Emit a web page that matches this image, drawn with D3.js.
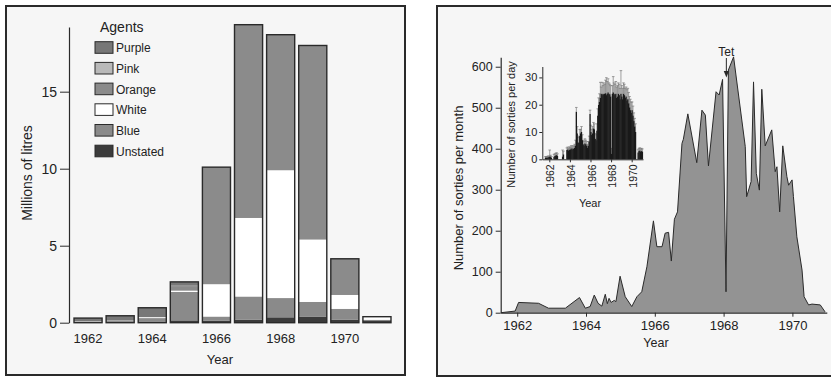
<!DOCTYPE html>
<html>
<head>
<meta charset="utf-8">
<script src="https://cdn.jsdelivr.net/npm/d3@7"></script>
<style>
  body { margin: 0; background: #fff; }
  svg { display: block; font-family: "Liberation Sans", Arial, Helvetica, sans-serif; }
</style>
</head>
<body>
<svg id="chart" width="831" height="378"></svg>
<script>
// ---- left panel: herbicide volumes (millions of litres) ----
const years = [1962, 1963, 1964, 1965, 1966, 1967, 1968, 1969, 1970, 1971];
const agentKeys = ["Purple", "Pink", "Orange", "White", "Blue", "Unstated"];
const purple   = [0.20, 0.30, 0.60, 0.25, 0, 0, 0, 0, 0, 0];
const pink     = [0.03, 0.02, 0.02, 0.02, 0, 0, 0, 0, 0, 0];
const orange   = [0, 0, 0, 0.30, 7.60, 12.55, 8.80, 12.60, 2.35, 0];
const white    = [0, 0, 0.05, 0.08, 2.10, 5.10, 8.30, 4.05, 0.90, 0.20];
const blue     = [0.04, 0.08, 0.22, 1.85, 0.28, 1.50, 1.25, 0.95, 0.70, 0.04];
const unstated = [0.03, 0.05, 0.08, 0.15, 0.12, 0.20, 0.35, 0.40, 0.20, 0.15];
const agentColors = ["#777777", "#b9b9b9", "#8b8b8b", "#ffffff", "#8a8a8a", "#3b3b3b"];
const leftYTicks = [0, 5, 10, 15];
const leftXTicks = [1962, 1964, 1966, 1968, 1970];

// ---- right panel: sorties per month ----
const sortieDates = [1961.53, 1961.94, 1962.04, 1962.62, 1962.91, 1963.40, 1963.81, 1963.98,
  1964.12, 1964.24, 1964.35, 1964.46, 1964.56, 1964.62, 1964.67, 1964.73, 1964.82, 1964.87,
  1964.99, 1965.14, 1965.33, 1965.48, 1965.62, 1965.77, 1965.96, 1966.06, 1966.21, 1966.30,
  1966.40, 1966.48, 1966.57, 1966.66, 1966.79, 1966.83, 1966.96, 1967.22, 1967.37, 1967.47,
  1967.56, 1967.78, 1967.87, 1967.97, 1968.07, 1968.14, 1968.29, 1968.63, 1968.67, 1968.80,
  1968.87, 1968.95, 1969.04, 1969.11, 1969.21, 1969.40, 1969.50, 1969.55, 1969.63, 1969.72,
  1969.84, 1969.89, 1969.99, 1970.03, 1970.13, 1970.28, 1970.34, 1970.47, 1970.57, 1970.81, 1970.95];
const sortieCounts = [0, 4, 25, 23, 11, 11, 37, 11,
  15, 43, 23, 16, 45, 22, 35, 25, 30, 27,
  89, 39, 15, 39, 51, 112, 224, 161, 161, 194,
  196, 126, 228, 246, 413, 423, 485, 366, 494, 482,
  358, 539, 531, 569, 51, 592, 624, 405, 283, 320,
  563, 340, 299, 545, 407, 446, 344, 356, 246, 407,
  332, 311, 324, 283, 185, 104, 39, 19, 21, 19, 2];
const mainYTicks = [0, 100, 200, 300, 400, 500, 600];
const mainXTicks = [1962, 1964, 1966, 1968, 1970];
const tetDate = 1968.08;

// ---- inset: sorties per day, monthly from Jul 1961 ----
const insetFirstMonth = 1961.5;
const insetRate = [
  0, 0.6, 0.6, 0.6, 0.7, 0.8,
  1.0, 0.8, 0.5, 0, 0, 0.9, 1.2, 1.4, 1.5, 1.2, 0, 0,
  0, 0, 0, 1.0, 1.8, 0, 0, 0, 3.4, 3.6, 3.2, 3.5,
  3.6, 4.0, 3.5, 4.0, 3.8, 4.2, 5.0, 17.4, 9.5, 6.2, 6.0, 8.5,
  9.5, 10.0, 7.0, 5.5, 5.0, 5.8, 5.5, 5.0, 4.2, 5.0, 6.5, 16.6,
  10.0, 8.9, 9.5, 11.3, 11.0, 7.5, 7.0, 10.5, 16.0, 19.9, 21.0, 22.5,
  24.0, 23.5, 24.0, 23.8, 24.0, 24.2, 23.5, 24.0, 24.5, 24.0, 23.8, 23.0,
  2.0, 24.0, 24.5, 24.0, 23.5, 24.0, 22.5, 23.0, 24.0, 23.5, 22.0, 24.0,
  23.0, 22.0, 24.0, 23.5, 22.5, 23.0, 21.5, 22.0, 20.5, 19.0, 18.0, 17.0,
  18.0, 16.0, 14.0, 12.0, 10.0, 0, 0, 2.5, 3.0, 3.2, 2.8, 3.0,
  2.8];
const insetHigh = [
  0, 1.0, 1.0, 1.0, 1.2, 1.2,
  3.4, 1.5, 1.0, 0, 0, 1.8, 2.0, 2.2, 2.4, 2.0, 0, 0,
  0, 0, 0, 3.4, 3.0, 0, 0, 0, 4.2, 4.5, 4.0, 4.5,
  4.5, 5.0, 4.5, 5.0, 4.8, 5.5, 7.0, 19.0, 12.0, 8.0, 8.5, 10.9,
  11.0, 12.0, 9.0, 7.0, 6.5, 7.5, 7.0, 6.5, 5.5, 6.5, 8.5, 18.0,
  12.5, 11.0, 12.0, 13.5, 13.0, 9.5, 9.0, 13.0, 18.5, 22.5, 24.0, 28.2,
  26.5, 28.2, 27.0, 28.0, 27.5, 29.0, 29.9, 28.5, 29.5, 28.0, 27.5, 27.0,
  4.0, 27.0, 30.3, 28.0, 27.5, 28.5, 26.5, 27.0, 28.0, 27.5, 26.0, 32.5,
  27.0, 26.0, 28.0, 27.5, 26.0, 26.5, 25.5, 26.0, 24.5, 23.0, 22.0, 21.0,
  21.0, 19.5, 17.0, 15.0, 13.0, 0, 0, 3.5, 4.0, 4.2, 3.8, 4.0,
  3.8];
const insetYTicks = [0, 10, 20, 30];
const insetXTicks = [1962, 1964, 1966, 1968, 1970];

const ink = "#2a2a2a";
const svg = d3.select("#chart");

// panel frames
svg.append("rect").attr("x", 6).attr("y", 6).attr("width", 399).attr("height", 369)
  .attr("fill", "#f6f6f6").attr("stroke", ink).attr("stroke-width", 2);
svg.append("rect").attr("x", 437).attr("y", 6).attr("width", 410).attr("height", 370)
  .attr("fill", "#f6f6f6").attr("stroke", ink).attr("stroke-width", 2);

function styleAxis(g, size) {
  g.attr("font-family", null).attr("font-size", size);
  g.selectAll("path, line").attr("stroke", ink);
  g.selectAll("text").attr("fill", "#222");
}

// ================= left panel =================
const xBar = d3.scaleBand().domain(years).range([72, 393]).paddingInner(0.125).paddingOuter(0.0625);
const yBar = d3.scaleLinear().domain([0, 19.2]).range([322.7, 27]);

const seriesByKey = { Purple: purple, Pink: pink, Orange: orange, White: white, Blue: blue, Unstated: unstated };
const rows = years.map((yr, i) => {
  const r = { year: yr };
  agentKeys.forEach(k => { r[k] = seriesByKey[k][i]; });
  return r;
});
const stackOrder = agentKeys.slice().reverse();
const stacked = d3.stack().keys(stackOrder)(rows);
const colorOf = d3.scaleOrdinal().domain(agentKeys).range(agentColors);

const barG = svg.append("g");
barG.selectAll("g.layer")
  .data(stacked)
  .join("g")
  .attr("class", "layer")
  .attr("fill", d => colorOf(d.key))
  .selectAll("rect")
  .data(d => d)
  .join("rect")
  .attr("x", d => xBar(d.data.year))
  .attr("width", xBar.bandwidth())
  .attr("y", d => yBar(d[1]))
  .attr("height", d => Math.max(0, yBar(d[0]) - yBar(d[1])));

const topLayer = stacked[stacked.length - 1];
barG.selectAll("rect.outline")
  .data(topLayer)
  .join("rect")
  .attr("class", "outline")
  .attr("x", d => xBar(d.data.year))
  .attr("width", xBar.bandwidth())
  .attr("y", d => yBar(d[1]))
  .attr("height", d => yBar(0) - yBar(d[1]))
  .attr("fill", "none")
  .attr("stroke", ink)
  .attr("stroke-width", 1.4);

svg.append("g")
  .attr("transform", "translate(69,0)")
  .call(d3.axisLeft(yBar).tickValues(leftYTicks).tickSize(9).tickPadding(3).tickSizeOuter(0))
  .call(g => styleAxis(g, 14))
  .call(g => g.select(".domain").attr("stroke-width", 1.2));

svg.append("g")
  .attr("transform", "translate(0,322.7)")
  .call(d3.axisBottom(xBar).tickValues(leftXTicks).tickSize(0).tickPadding(11))
  .call(g => g.select(".domain").remove())
  .call(g => styleAxis(g, 13));

svg.append("text").attr("x", 220).attr("y", 364).attr("text-anchor", "middle")
  .attr("font-size", 13).attr("fill", "#222").text("Year");
svg.append("text").attr("transform", "translate(27,173) rotate(-90)")
  .attr("text-anchor", "middle").attr("dy", "0.35em")
  .attr("font-size", 14).attr("fill", "#222").text("Millions of litres");

// legend
const legend = svg.append("g");
legend.append("text").attr("x", 100).attr("y", 32).attr("font-size", 14).attr("fill", "#222").text("Agents");
const legendRows = legend.selectAll("g.item").data(agentKeys).join("g")
  .attr("class", "item")
  .attr("transform", (d, i) => `translate(95,${47.5 + i * 20.7})`);
legendRows.append("rect").attr("x", 0).attr("y", -5.8).attr("width", 18).attr("height", 11.6)
  .attr("fill", d => colorOf(d)).attr("stroke", ink).attr("stroke-width", 1);
legendRows.append("text").attr("x", 21).attr("y", 4.8).attr("font-size", 12).attr("fill", "#222").text(d => d);

// ================= right panel =================
const xMain = d3.scaleLinear().domain([1961.52, 1971.0]).range([500.7, 826.8]);
const yMain = d3.scaleLinear().domain([0, 623]).range([312.7, 57.3]);
const sortiePts = sortieDates.map((t, i) => [t, sortieCounts[i]]);

svg.append("path")
  .datum(sortiePts)
  .attr("fill", "#939393")
  .attr("d", d3.area().x(d => xMain(d[0])).y0(yMain(0)).y1(d => yMain(d[1])));
svg.append("path")
  .datum(sortiePts)
  .attr("fill", "none")
  .attr("stroke", ink)
  .attr("stroke-width", 1)
  .attr("stroke-linejoin", "round")
  .attr("d", d3.line().x(d => xMain(d[0])).y(d => yMain(d[1])));

svg.append("g")
  .attr("transform", "translate(500.7,0)")
  .call(d3.axisLeft(yMain).tickValues(mainYTicks).tickSize(5).tickPadding(3).tickSizeOuter(0))
  .call(g => styleAxis(g, 12.5))
  .call(g => g.select(".domain").attr("stroke-width", 1.2));

svg.append("g")
  .attr("transform", "translate(0,312.7)")
  .call(d3.axisBottom(xMain).tickValues(mainXTicks).tickFormat(d3.format("d"))
    .tickSize(4).tickPadding(4).tickSizeOuter(0))
  .call(g => styleAxis(g, 13))
  .call(g => g.select(".domain").attr("stroke-width", 1.2));

svg.append("text").attr("x", 656).attr("y", 347).attr("text-anchor", "middle")
  .attr("font-size", 12.5).attr("fill", "#222").text("Year");
svg.append("text").attr("transform", "translate(458,188) rotate(-90)")
  .attr("text-anchor", "middle").attr("dy", "0.35em")
  .attr("font-size", 13).attr("fill", "#222").text("Number of sorties per month");

// Tet annotation
const tetX = xMain(tetDate);
svg.append("text").attr("x", tetX).attr("y", 56).attr("text-anchor", "middle")
  .attr("font-size", 12).attr("fill", "#222").text("Tet");
svg.append("line").attr("x1", tetX).attr("x2", tetX).attr("y1", 58).attr("y2", 73)
  .attr("stroke", ink).attr("stroke-width", 1);
svg.append("path").attr("d", `M${tetX - 2.6},71 L${tetX + 2.6},71 L${tetX},77.5 Z`).attr("fill", ink);

// ================= inset =================
const xIn = d3.scaleLinear().domain([1961.32, 1971.1]).range([542.3, 643]);
const yIn = d3.scaleLinear().domain([0, 34]).range([159.3, 66.5]);
const insetData = insetRate.map((v, i) => ({ t: insetFirstMonth + i / 12, v: v, hi: insetHigh[i] }));
const monthW = xIn(insetFirstMonth + 1 / 12) - xIn(insetFirstMonth);

const inG = svg.append("g");
// whiskers first, bars drawn over them so only the upper part shows
const whisk = inG.selectAll("g.whisk").data(insetData.filter(d => d.hi > d.v)).join("g")
  .attr("class", "whisk")
  .attr("transform", d => `translate(${xIn(d.t) + monthW / 2},0)`);
whisk.append("line").attr("x1", 0).attr("x2", 0)
  .attr("y1", d => yIn(d.v)).attr("y2", d => yIn(d.hi))
  .attr("stroke", "#7a7a7a").attr("stroke-width", 0.7);
whisk.append("line").attr("x1", -1.3).attr("x2", 1.3)
  .attr("y1", d => yIn(d.hi)).attr("y2", d => yIn(d.hi))
  .attr("stroke", "#7a7a7a").attr("stroke-width", 0.7);

inG.selectAll("rect").data(insetData.filter(d => d.v > 0)).join("rect")
  .attr("x", d => xIn(d.t) - 0.25)
  .attr("width", monthW + 0.5)
  .attr("y", d => yIn(d.v))
  .attr("height", d => yIn(0) - yIn(d.v))
  .attr("fill", "#1a1a1a");

svg.append("g")
  .attr("transform", "translate(542.3,0)")
  .call(d3.axisLeft(yIn).tickValues(insetYTicks).tickSize(3).tickPadding(2).tickSizeOuter(0))
  .call(g => styleAxis(g, 11));

svg.append("g")
  .attr("transform", "translate(0,159.3)")
  .call(d3.axisBottom(xIn).tickValues(insetXTicks).tickFormat(d3.format("d"))
    .tickSize(3).tickSizeOuter(0))
  .call(g => styleAxis(g, 10.5))
  .call(g => g.selectAll(".tick text")
    .attr("transform", "rotate(-90)")
    .attr("x", -5).attr("y", 1).attr("dy", "0.35em")
    .attr("text-anchor", "end"));

svg.append("text").attr("x", 590).attr("y", 206.5).attr("text-anchor", "middle")
  .attr("font-size", 11).attr("fill", "#222").text("Year");
svg.append("text").attr("transform", "translate(511,124.5) rotate(-90)")
  .attr("text-anchor", "middle").attr("dy", "0.35em")
  .attr("font-size", 11).attr("fill", "#222").text("Number of sorties per day");
</script>
</body>
</html>
